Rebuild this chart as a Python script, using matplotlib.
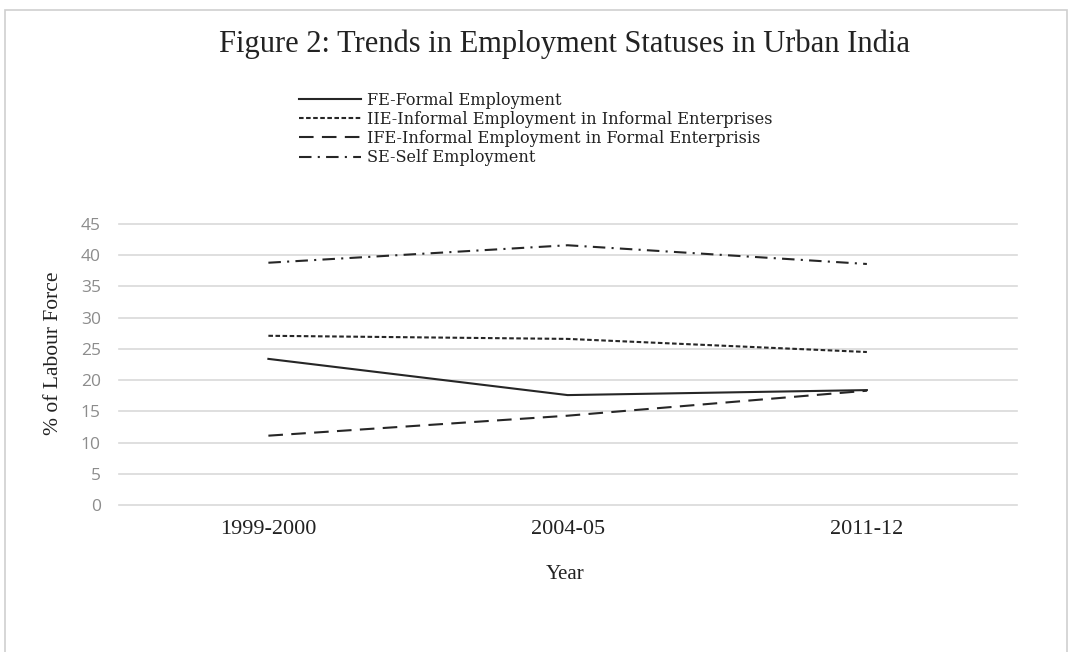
import matplotlib.pyplot as plt
from matplotlib.patches import Rectangle

# Data
years = ['1999-2000', '2004-05', '2011-12']
fe = [23.4, 17.6, 18.4]    # Formal Employment
iie = [27.1, 26.6, 24.5]   # Informal Employment in Informal Enterprises
ife = [11.1, 14.3, 18.3]   # Informal Employment in Formal Enterprises
se = [38.8, 41.6, 38.6]    # Self Employment
y_ticks = list(range(0, 50, 5))

serif = 'Liberation Serif'
sans = 'Open Sans'
line_col = '#262626'
text_col = '#222222'

fig = plt.figure(figsize=(10.7, 6.52), dpi=100)
ax = fig.add_axes([0.111, 0.2255, 0.839, 0.4309])

x = range(len(years))
ax.plot(x, fe, color=line_col, lw=1.5, linestyle='-', label='FE-Formal Employment')
ax.plot(x, iie, color=line_col, lw=1.5, linestyle=(0, (2.2, 1.2)),
        label='IIE-Informal Employment in Informal Enterprises')
ax.plot(x, ife, color=line_col, lw=1.5, linestyle=(0, (7, 4)),
        label='IFE-Informal Employment in Formal Enterprisis')
ax.plot(x, se, color=line_col, lw=1.5, linestyle=(0, (6, 3, 1, 3)),
        label='SE-Self Employment')

# category axis: each year sits in the middle of its band
ax.set_xlim(-0.5, 2.5)
ax.set_ylim(0, 45)
ax.set_yticks(y_ticks)
ax.set_xticks(list(x))
ax.set_xticklabels(years, fontfamily=serif, fontsize=16, color=text_col)
for lab in ax.get_yticklabels():
    lab.set_fontfamily(sans)
    lab.set_fontsize(12.5)
    lab.set_color('#8c8c8c')
ax.tick_params(axis='both', length=0)
ax.tick_params(axis='x', pad=11)
ax.tick_params(axis='y', pad=13)
ax.grid(axis='y', color='#d9d9d9', lw=1.2)
for gl in ax.get_ygridlines():
    gl.set_clip_on(False)
ax.set_axisbelow(True)
for s in ax.spines.values():
    s.set_visible(False)

ax.set_xlabel('Year', fontfamily=serif, fontsize=15, color=text_col)
ax.xaxis.set_label_coords(0.4967, -0.2135)
ax.set_ylabel('% of Labour Force', fontfamily=serif, fontsize=15.5, color=text_col)
ax.yaxis.set_label_coords(-0.062, 0.541)

fig.text(0.528, 0.932, 'Figure 2: Trends in Employment Statuses in Urban India',
         ha='center', va='center', fontfamily=serif, fontsize=22, color=text_col)

leg = fig.legend(loc='upper left', bbox_to_anchor=(0.273, 0.869), frameon=False,
                 prop={'family': 'DejaVu Serif', 'size': 11.6}, handlelength=3.9,
                 handletextpad=0.35, labelspacing=0.13, borderaxespad=0)
for t in leg.get_texts():
    t.set_color(text_col)

# light border around the chart area
fig.add_artist(Rectangle((0.005, -0.01), 0.992, 0.995, transform=fig.transFigure,
                         fill=False, edgecolor='#cfcfcf', lw=1.2))

plt.savefig('out.png', dpi=100)
